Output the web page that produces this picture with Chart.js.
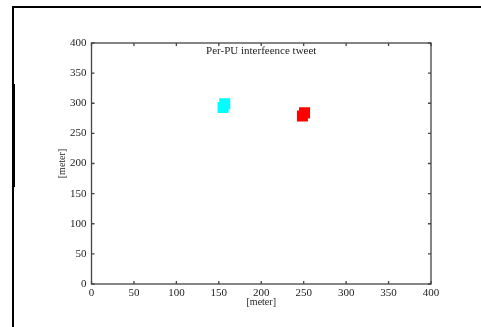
<!DOCTYPE html>
<html>
<head>
<meta charset="utf-8">
<script src="https://cdn.jsdelivr.net/npm/chart.js@4/dist/chart.umd.min.js"></script>
<style>
    html, body { margin: 0; padding: 0; background: #fff; }
    #wrap { position: relative; width: 481px; height: 327px; }
    #frame { position: absolute; left: 12px; top: 6px; width: 469px; height: 321px;
        border-top: 2px solid #000; border-left: 2px solid #000; }
    #thick { position: absolute; left: 12px; top: 84px; width: 3px; height: 103px; background: #000; }
    canvas { position: absolute; left: 0; top: 0; }
</style>
</head>
<body>
<div id="wrap">
    <div id="frame"></div>
    <div id="thick"></div>
    <canvas id="chart1" width="481" height="327"></canvas>
</div>
<script>
// data
const tickValues = [0, 50, 100, 150, 200, 250, 300, 350, 400];
const cyanX = [157, 155];
const cyanY = [299, 293];
const redX = [251, 248.5];
const redY = [284, 279];
const titleText = "Per-PU interfeence tweet";
const axisLabel = "[meter]";

const fontFam = "'Liberation Serif', 'Times New Roman', serif";

// frame, inward ticks and inner title
const framePlugin = {
    id: 'framePlugin',
    afterDraw(chart) {
        const c = chart.ctx;
        const a = chart.chartArea;
        const xs = chart.scales.x;
        const ys = chart.scales.y;
        c.save();
        c.strokeStyle = '#444';
        c.lineWidth = 1.3;
        c.strokeRect(a.left, a.top, a.right - a.left, a.bottom - a.top);
        c.beginPath();
        tickValues.forEach(v => {
            const px = xs.getPixelForValue(v);
            c.moveTo(px, a.bottom); c.lineTo(px, a.bottom - 3);
            c.moveTo(px, a.top); c.lineTo(px, a.top + 3);
            const py = ys.getPixelForValue(v);
            c.moveTo(a.left, py); c.lineTo(a.left + 3, py);
            c.moveTo(a.right, py); c.lineTo(a.right - 3, py);
        });
        c.stroke();
        c.fillStyle = '#222';
        c.font = '11px ' + fontFam;
        c.textAlign = 'center';
        c.textBaseline = 'middle';
        c.fillText(titleText, (a.left + a.right) / 2, a.top + 8);
        c.restore();
    }
};

const ctx = document.getElementById('chart1');
new Chart(ctx, {
    type: 'scatter',
    data: {
        datasets: [{
            data: cyanX.map((x, i) => ({ x: x, y: cyanY[i] })),
            backgroundColor: '#00ffff',
            borderWidth: 0,
            pointStyle: 'rect',
            pointRadius: 7.8
        }, {
            data: redX.map((x, i) => ({ x: x, y: redY[i] })),
            backgroundColor: '#ff0000',
            borderWidth: 0,
            pointStyle: 'rect',
            pointRadius: 7.8
        }]
    },
    options: {
        responsive: false,
        animation: false,
        layout: { padding: { left: 50, right: 50, top: 43, bottom: 19 } },
        plugins: { legend: { display: false }, tooltip: { enabled: false } },
        scales: {
            x: {
                type: 'linear', min: 0, max: 400,
                afterFit: (s) => { s.height = 24; },
                grid: { display: false, drawTicks: false },
                border: { display: false },
                ticks: { stepSize: 50, padding: 3, color: '#222', maxRotation: 0,
                    font: { family: fontFam, size: 11 } },
                title: { display: true, text: axisLabel, color: '#222', padding: { top: 0, bottom: 0 },
                    font: { family: fontFam, size: 10 } }
            },
            y: {
                type: 'linear', min: 0, max: 400,
                afterFit: (s) => { s.width = 41.5; },
                grid: { display: false, drawTicks: false },
                border: { display: false },
                ticks: { stepSize: 50, padding: 5, color: '#222',
                    font: { family: fontFam, size: 11 } },
                title: { display: true, text: axisLabel, color: '#222', padding: { top: 6, bottom: 0 },
                    font: { family: fontFam, size: 10 } }
            }
        }
    },
    plugins: [framePlugin]
});
</script>
</body>
</html>
